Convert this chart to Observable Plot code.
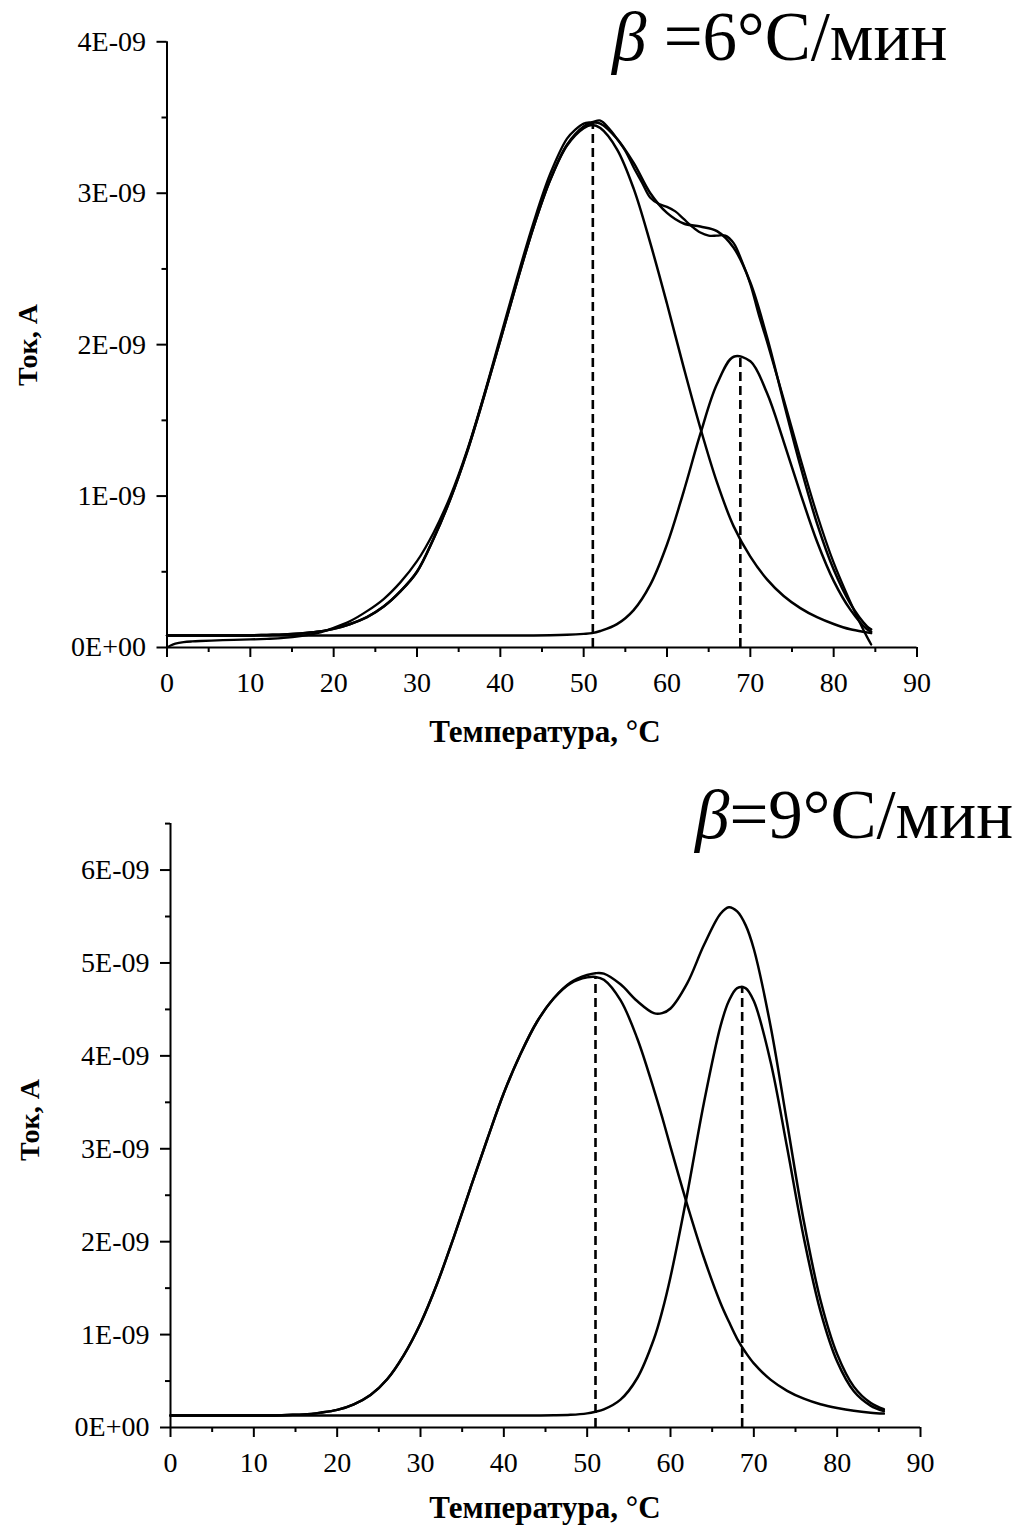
<!DOCTYPE html>
<html>
<head>
<meta charset="utf-8">
<script src="https://cdn.jsdelivr.net/npm/d3@7"></script>
<script src="https://cdn.jsdelivr.net/npm/@observablehq/plot@0.6"></script>
<style>
  html, body { margin: 0; padding: 0; background: #fff; }
  #wrap { position: relative; width: 1023px; height: 1526px; overflow: hidden; background: #fff; }
  .panel { position: absolute; left: 0; }
  .ttl { position: absolute; font-family: "Liberation Serif", "Times New Roman", Times, serif; font-size: 69px; line-height: 1; white-space: nowrap; color: #000; }
  .xl { position: absolute; font-family: "Liberation Serif", "Times New Roman", Times, serif; font-weight: bold; font-size: 31px; line-height: 1; white-space: nowrap; transform: translateX(-50%); color: #000; }
  .yl { position: absolute; font-family: "Liberation Serif", "Times New Roman", Times, serif; font-weight: bold; font-size: 28px; line-height: 1; white-space: nowrap; transform: translate(-50%, -50%) rotate(-90deg); color: #000; }
</style>
</head>
<body>
<div id="wrap"></div>
<script>
// ---------- Panel 1: beta = 6 °C/min (current in units of 1E-09 A) ----------
const temp6Fit = [0,2,4,6,8,10,12,14,16,18,20,22,24,26,28,30,32,34,36,38,40,42,44,46,48,50,51,52,54,56,58,60,62,64,66,68,70,72,74,76,78,80,82,84,84.5];
const peak1_6 = [0.08,0.08,0.08,0.08,0.08,0.08,0.083,0.086,0.093,0.104,0.123,0.155,0.20,0.27,0.37,0.50,0.72,0.98,1.29,1.65,2.03,2.415,2.78,3.09,3.315,3.43,3.45,3.43,3.29,3.03,2.67,2.27,1.85,1.45,1.09,0.80,0.60,0.45,0.34,0.26,0.20,0.155,0.12,0.10,0.095];
const peak2_6 = [0.08,0.08,0.08,0.08,0.08,0.08,0.08,0.08,0.08,0.08,0.08,0.08,0.08,0.08,0.08,0.08,0.08,0.08,0.08,0.08,0.08,0.08,0.08,0.081,0.084,0.09,0.095,0.109,0.154,0.247,0.415,0.68,1.03,1.41,1.74,1.92,1.89,1.68,1.36,1.02,0.70,0.44,0.25,0.12,0.105];
const sum_6 = [0.08,0.08,0.08,0.08,0.08,0.08,0.083,0.086,0.093,0.104,0.123,0.155,0.20,0.27,0.37,0.50,0.72,0.98,1.29,1.65,2.03,2.415,2.78,3.09,3.32,3.44,3.465,3.46,3.36,3.20,3.00,2.87,2.80,2.78,2.75,2.64,2.41,2.05,1.62,1.20,0.82,0.515,0.29,0.14,0.12];
const temp6Exp = [0,0.5,1,2,3,4,6,8,10,12,14,16,18,20,22,24,26,28,30,32,34,36,38,40,42,44,46,48,49,50,51,52,53,54,55,56,57,58,59,60,61,62,63,64,65,66,67,68,69,70,71,72,74,76,78,80,82,83,84,84.5];
const exp_6 = [0.0,0.015,0.025,0.035,0.04,0.043,0.047,0.05,0.053,0.057,0.063,0.075,0.095,0.13,0.175,0.24,0.32,0.43,0.57,0.76,1.0,1.3,1.66,2.05,2.44,2.81,3.13,3.36,3.42,3.46,3.47,3.48,3.43,3.36,3.28,3.17,3.07,2.97,2.93,2.91,2.88,2.83,2.78,2.74,2.72,2.72,2.72,2.67,2.55,2.40,2.20,2.02,1.64,1.25,0.88,0.56,0.30,0.18,0.07,0.02];
const peakT_6 = [51.1, 68.8];
const peakV_6 = [3.46, 1.93];
const yTicks6 = [0,1,2,3,4];
const yMinor6 = [0.5,1.5,2.5,3.5];

// ---------- Panel 2: beta = 9 °C/min ----------
const temp9 = [0,4,8,12,14,16,18,20,22,24,26,28,30,32,34,36,38,40,42,44,46,48,50,51,52,54,56,58,59,60,62,64,66,67,68,69,70,72,74,76,78,80,82,84,85.6];
const peak1_9 = [0.13,0.13,0.13,0.13,0.135,0.14,0.16,0.19,0.25,0.35,0.52,0.78,1.12,1.55,2.05,2.58,3.10,3.60,4.02,4.37,4.62,4.78,4.845,4.85,4.82,4.60,4.19,3.64,3.34,3.02,2.40,1.83,1.34,1.14,0.955,0.81,0.69,0.515,0.395,0.31,0.25,0.21,0.18,0.16,0.15];
const peak2_9 = [0.13,0.13,0.13,0.13,0.13,0.13,0.13,0.13,0.13,0.13,0.13,0.13,0.13,0.13,0.13,0.13,0.13,0.13,0.13,0.13,0.131,0.136,0.152,0.17,0.195,0.30,0.53,0.95,1.25,1.62,2.51,3.49,4.32,4.59,4.73,4.73,4.59,3.94,3.01,2.04,1.25,0.71,0.39,0.236,0.177];
const sum_9 = [0.13,0.13,0.13,0.13,0.135,0.14,0.16,0.19,0.25,0.35,0.52,0.78,1.12,1.55,2.05,2.58,3.10,3.60,4.02,4.37,4.62,4.79,4.87,4.89,4.885,4.77,4.59,4.46,4.46,4.51,4.78,5.19,5.53,5.60,5.555,5.41,5.15,4.325,3.275,2.22,1.37,0.79,0.44,0.266,0.197];
const peakT_9 = [51.0, 68.6];
const peakV_9 = [4.85, 4.75];
const yTicks9 = [0,1,2,3,4,5,6];
const yMinor9 = [0.5,1.5,2.5,3.5,4.5,5.5,6.5];

const xTicks = [0,10,20,30,40,50,60,70,80,90];
const xMinor = [5,15,25,35,45,55,65,75,85];

const zip = (xs, ys) => xs.map((x, i) => ({t: x, v: ys[i]}));
const fmtY = d => d === 0 ? "0E+00" : `${Math.round(d)}E-09`;

function panel(o) {
  return Plot.plot({
    width: 1023,
    height: o.height,
    marginLeft: o.ml, marginRight: o.mr, marginTop: o.mt, marginBottom: o.mb,
    x: {domain: [0, 90]},
    y: {domain: [0, o.ymax]},
    style: {fontFamily: "'Liberation Serif', 'Times New Roman', Times, serif", fontSize: "28px", color: "#000", background: "transparent", overflow: "visible"},
    marks: [
      Plot.axisX({ticks: xTicks, tickSize: 10, tickPadding: 15, tickFormat: d => String(d), label: null, strokeWidth: 2, fontSize: 28}),
      Plot.axisX({ticks: xMinor, tickSize: 5, tickFormat: () => "", label: null, strokeWidth: 2}),
      Plot.axisY({ticks: o.yTicks, tickSize: 10, tickPadding: 11, tickFormat: fmtY, label: null, strokeWidth: 2, fontSize: 28}),
      Plot.axisY({ticks: o.yMinor, tickSize: 5, tickFormat: () => "", label: null, strokeWidth: 2}),
      Plot.ruleY([0], {stroke: "#000", strokeWidth: 2}),
      Plot.ruleX([0], {y1: 0, y2: o.ymax, stroke: "#000", strokeWidth: 2}),
      Plot.ruleX(zip(o.peakT, o.peakV), {x: "t", y1: 0, y2: "v", stroke: "#000", strokeWidth: 2.6, strokeDasharray: "9,5"}),
      ...o.lines.map(l => Plot.line(zip(l.t, l.v), {x: "t", y: "v", stroke: "#000", strokeWidth: l.w, curve: "catmull-rom"}))
    ]
  });
}

const wrap = document.getElementById("wrap");

const p1 = panel({
  height: 760, ml: 166.5, mr: 106.5, mt: 41.3, mb: 113, ymax: 4,
  yTicks: yTicks6, yMinor: yMinor6, peakT: peakT_6, peakV: peakV_6,
  lines: [
    {t: temp6Fit, v: peak1_6, w: 2.5},
    {t: temp6Fit, v: peak2_6, w: 2.5},
    {t: temp6Fit, v: sum_6, w: 2.5},
    {t: temp6Exp, v: exp_6, w: 2.3}
  ]
});
p1.classList.add("panel"); p1.style.top = "0px";
wrap.appendChild(p1);

const p2 = panel({
  height: 766, ml: 170, mr: 103, mt: 63.1, mb: 99, ymax: 6.5,
  yTicks: yTicks9, yMinor: yMinor9, peakT: peakT_9, peakV: peakV_9,
  lines: [
    {t: temp9, v: peak1_9, w: 2.5},
    {t: temp9, v: peak2_9, w: 2.5},
    {t: temp9, v: sum_9, w: 2.5}
  ]
});
p2.classList.add("panel"); p2.style.top = "760px";
wrap.appendChild(p2);

function addDiv(cls, html, left, top) {
  const d = document.createElement("div");
  d.className = cls; d.innerHTML = html;
  d.style.left = left + "px"; d.style.top = top + "px";
  wrap.appendChild(d);
}
addDiv("ttl", "<i>β</i> =6°C/мин", 612, 3);
addDiv("ttl", "<i>β</i>=9°C/мин", 695, 781);
addDiv("xl", "Температура, °C", 545, 716);
addDiv("xl", "Температура, °C", 545, 1492);
addDiv("yl", "Ток, А", 28, 345);
addDiv("yl", "Ток, А", 30, 1120);
</script>
</body>
</html>
